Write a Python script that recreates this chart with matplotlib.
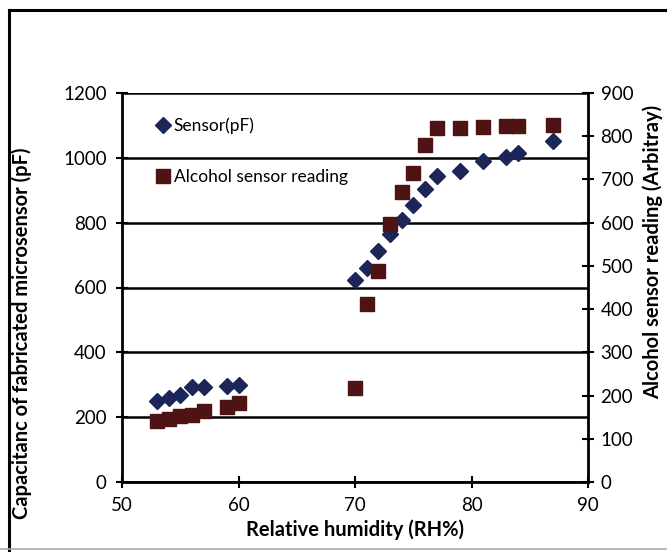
import matplotlib
matplotlib.use("Agg")
import matplotlib.pyplot as plt
from matplotlib.lines import Line2D

plt.rcParams["font.family"]=["Lato","DejaVu Sans"]

rh_sensor=[53,54,55,56,57,59,60,70,71,72,73,74,75,76,77,79,81,83,84,87]
cap_pf=[251,258,268,292,294,297,299,623,659,713,764,808,854,903,944,960,991,1003,1016,1052]
rh_alcohol=[53,54,55,56,57,59,60,70,71,72,73,74,75,76,77,79,81,83,84,87]
alcohol_reading=[142,145,153,155,165,173,183,217,412,488,597,670,714,780,820,820,822,824,824,826]
x_ticks=[50,60,70,80,90]
left_ticks=[0,200,400,600,800,1000,1200]
right_ticks=[0,100,200,300,400,500,600,700,800,900]

navy="#1c2557";maroon="#4e1414"
fig=plt.figure(figsize=(6.67,5.52),dpi=100)
ax=fig.add_axes([122/667,1-482/552,466/667,389/552]);ax2=ax.twinx()
ax.set_xlim(50,90);ax.set_ylim(0,1200);ax2.set_ylim(0,900)
ax.set_xticks(x_ticks);ax.set_yticks(left_ticks);ax2.set_yticks(right_ticks)
for a in (ax,ax2):
    for s in a.spines.values():s.set_visible(False)
ax.spines["left"].set_visible(True);ax.spines["bottom"].set_visible(True);ax2.spines["right"].set_visible(True)
for s in (ax.spines["left"],ax.spines["bottom"],ax2.spines["right"]):s.set_linewidth(2)
ax.grid(axis="y",color="black",lw=1.8);ax.set_axisbelow(True)
ax.tick_params(direction="inout",length=8,width=1.5,labelsize=13.5,pad=7)
ax2.tick_params(direction="inout",length=8,width=1.5,labelsize=13.5,pad=5)
ax.plot(rh_sensor,cap_pf,"D",color=navy,ms=8.5,zorder=5,clip_on=False)
ax2.plot(rh_alcohol,alcohol_reading,"s",color=maroon,ms=10.5,zorder=4,clip_on=False)
ax.set_xlabel("Relative humidity (RH%)",fontsize=14.5,fontweight="bold",labelpad=4)
fig.text(22/667,1-333/552,"Capacitanc of fabricated microsensor (pF)",rotation=90,ha="center",va="center",fontsize=14.5,fontweight="bold")
fig.text(653/667,1-252/552,"Alcohol sensor reading (Arbitray)",rotation=90,ha="center",va="center",fontsize=14.5,fontweight="bold")
handles=[Line2D([],[],ls="",marker="D",color=navy,ms=8.5),Line2D([],[],ls="",marker="s",color=maroon,ms=10.5)]
ax.legend(handles,["Sensor(pF)","Alcohol sensor reading"],loc="upper left",bbox_to_anchor=(0.055,0.955),frameon=False,fontsize=12.5,handletextpad=0.1,handlelength=1,labelspacing=2.0,borderaxespad=0)
fig.add_artist(Line2D([9/667,9/667],[0,1-10/552],color="black",lw=2.2))
fig.add_artist(Line2D([9/667,1],[1-10/552,1-10/552],color="black",lw=2.2))
fig.add_artist(Line2D([0,1],[1-549/552,1-549/552],color="#aaaaaa",lw=1.2))
fig.savefig("out.png",dpi=100);plt.close(fig)
